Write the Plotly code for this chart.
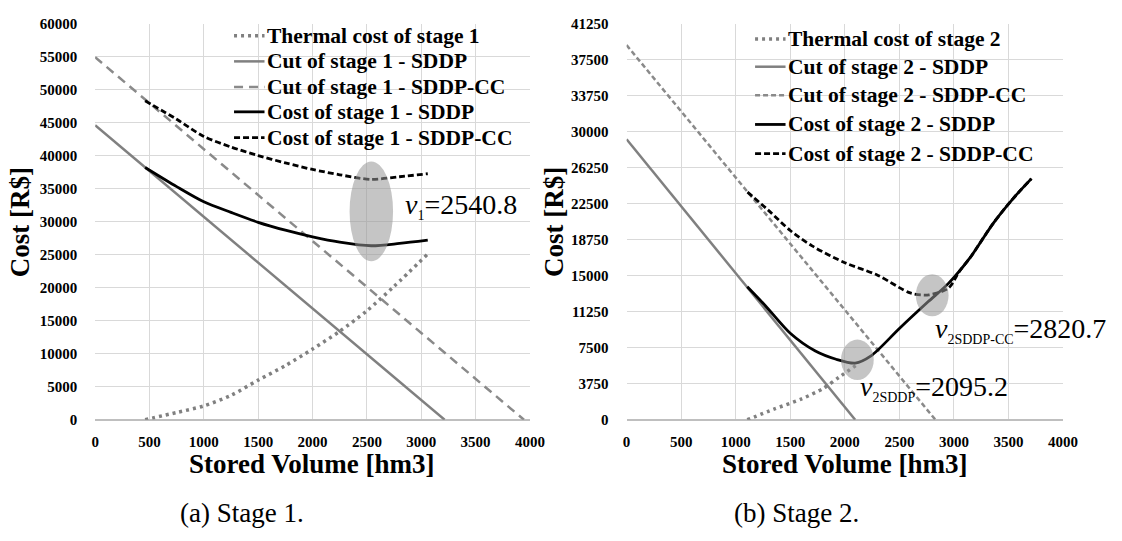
import plotly.graph_objects as go

# ---------------- Stage 1 data ----------------
s1_thermal_x = [460, 750, 1000, 1250, 1500, 1750, 2000, 2250, 2500, 2750, 3060]
s1_thermal_y = [0, 1100, 2100, 3700, 6000, 8200, 10700, 13400, 16500, 20200, 25100]
s1_cut_sddp_x = [0, 3215]
s1_cut_sddp_y = [44600, 0]
s1_cut_cc_x = [0, 3945]
s1_cut_cc_y = [54900, 0]
s1_cost_sddp_x = [460, 750, 1000, 1250, 1500, 1750, 2000, 2250, 2540, 2800, 3060]
s1_cost_sddp_y = [38200, 35300, 33000, 31400, 29900, 28700, 27700, 26900, 26350, 26700, 27200]
s1_cost_cc_x = [460, 750, 1000, 1250, 1500, 1750, 2000, 2250, 2540, 2800, 3060]
s1_cost_cc_y = [48300, 45500, 42900, 41300, 40000, 38900, 37900, 37100, 36400, 36800, 37250]

# ---------------- Stage 2 data ----------------
s2_thermal_x = [1106, 1350, 1600, 1800, 1950, 2120]
s2_thermal_y = [0, 1100, 2150, 3250, 4450, 5800]
s2_cut_sddp_x = [0, 2095]
s2_cut_sddp_y = [29200, 0]
s2_cut_cc_x = [0, 2830]
s2_cut_cc_y = [39000, 0]
s2_cost_sddp_x = [1106, 1270, 1500, 1730, 1920, 2095, 2240, 2500, 2760, 2950, 3150, 3360, 3540, 3710]
s2_cost_sddp_y = [13850, 11900, 9000, 7150, 6300, 5900, 6650, 9500, 12250, 14200, 16900, 20450, 23000, 25100]
s2_cost_cc_x = [1108, 1300, 1500, 1700, 2000, 2300, 2600, 2770, 2950, 3050, 3150, 3360, 3540, 3710]
s2_cost_cc_y = [23700, 21800, 19700, 18100, 16350, 15050, 13200, 13000, 13700, 15450, 16900, 20450, 23000, 25100]

x_ticks = [0, 500, 1000, 1500, 2000, 2500, 3000, 3500, 4000]
y1_ticks = list(range(0, 60001, 5000))
y2_ticks = [0, 3750, 7500, 11250, 15000, 18750, 22500, 26250, 30000, 33750, 37500, 41250]

# marked optima
v1 = 2540.8
v2_sddp = 2095.2
v2_cc = 2820.7

SERIF = "Liberation Serif"
GRAY = "#808080"
GRAY2 = "#8a8a8a"
W, H = 1122, 541

fig = go.Figure()


def add_stage(stage, xa, ya, th, cs, cc, ks, kc, cc_dash, leg_x, leg_rows):
    styles = [
        (th, f"Thermal cost of stage {stage}", dict(color=GRAY, width=3.5, dash="3px,4px"), "spline"),
        (cs, f"Cut of stage {stage} - SDDP", dict(color=GRAY, width=2.5), "linear"),
        (cc, f"Cut of stage {stage} - SDDP-CC", dict(color=GRAY2, width=2.5, dash=cc_dash), "linear"),
        (ks, f"Cost of stage {stage} - SDDP", dict(color="black", width=2.8), "spline"),
        (kc, f"Cost of stage {stage} - SDDP-CC", dict(color="black", width=2.8, dash="6px,3px"), "spline"),
    ]
    for (data, name, ln, shape), ry in zip(styles, leg_rows):
        line = dict(ln)
        line["shape"] = shape
        if shape == "spline":
            line["smoothing"] = 0.8
        fig.add_trace(go.Scatter(x=data[0], y=data[1], mode="lines", line=line, name=name,
                                 xaxis=xa, yaxis=ya, showlegend=False))
        # legend entry (sample line + label)
        fig.add_shape(type="line", xref="paper", yref="paper",
                      x0=leg_x / W, x1=(leg_x + 31) / W, y0=1 - ry / H, y1=1 - ry / H,
                      line=dict(color=ln["color"], width=ln["width"], dash=ln.get("dash", "solid")))
        fig.add_annotation(xref="paper", yref="paper", x=(leg_x + 31) / W, y=1 - ry / H,
                           xanchor="left", yanchor="middle", showarrow=False, text=name,
                           font=dict(family=SERIF, size=21.5, color="black", weight="bold"))


add_stage(1, "x", "y",
          (s1_thermal_x, s1_thermal_y), (s1_cut_sddp_x, s1_cut_sddp_y), (s1_cut_cc_x, s1_cut_cc_y),
          (s1_cost_sddp_x, s1_cost_sddp_y), (s1_cost_cc_x, s1_cost_cc_y), "9px,6px",
          234, [28.5, 55, 81.5, 107, 133.5])
add_stage(2, "x2", "y2",
          (s2_thermal_x, s2_thermal_y), (s2_cut_sddp_x, s2_cut_sddp_y), (s2_cut_cc_x, s2_cut_cc_y),
          (s2_cost_sddp_x, s2_cost_sddp_y), (s2_cost_cc_x, s2_cost_cc_y), "5px,3px",
          764, [32, 60.5, 90, 120, 150])

tickfont = dict(family=SERIF, size=15, color="black", weight="bold")
xcommon = dict(range=[0, 4000], tickvals=x_ticks, ticktext=[str(v) for v in x_ticks],
               showgrid=True, gridcolor="#d9d9d9", gridwidth=1,
               zeroline=False, showline=False, ticks="outside", ticklen=8, tickcolor="rgba(0,0,0,0)",
               tickfont=tickfont, fixedrange=True)
ycommon = dict(showgrid=True, gridcolor="#d9d9d9", gridwidth=1, zeroline=True, zerolinecolor="#bfbfbf",
               zerolinewidth=1.5, showline=False, ticks="outside", ticklen=14, tickcolor="rgba(0,0,0,0)",
               tickfont=tickfont, fixedrange=True)

ydom = [116.7 / H, 525 / H]

fig.update_layout(
    width=W, height=H,
    margin=dict(l=0, r=0, t=0, b=0),
    paper_bgcolor="white", plot_bgcolor="white",
    font=dict(family=SERIF),
    showlegend=False,
    xaxis=dict(domain=[92.7 / W, 535 / W], anchor="y", **xcommon),
    yaxis=dict(domain=ydom, anchor="x", range=[0, 60000], tickvals=y1_ticks,
               ticktext=[str(v) for v in y1_ticks], **ycommon),
    xaxis2=dict(domain=[633.3 / W, 1077.3 / W], anchor="y2", **xcommon),
    yaxis2=dict(domain=ydom, anchor="x2", range=[0, 41250], tickvals=y2_ticks,
                ticktext=[str(v) for v in y2_ticks], **ycommon),
)

# highlight ellipses
ell = dict(type="circle", layer="above", line=dict(width=0), fillcolor="rgba(150,150,150,0.55)")
fig.add_shape(xref="x", yref="y", x0=v1 - 200, x1=v1 + 200, y0=24000, y1=39100, **ell)
fig.add_shape(xref="x2", yref="y2", x0=v2_sddp - 130, x1=v2_sddp + 170, y0=4140, y1=8345, **ell)
fig.add_shape(xref="x2", yref="y2", x0=v2_cc - 170, x1=v2_cc + 130, y0=10770, y1=15150, **ell)

afont = dict(family=SERIF, size=28, color="black")
SUB = "<span style='font-size:14px'>{}</span>"
fig.add_annotation(xref="x", yref="y", x=2830, y=32300, xanchor="left", yanchor="middle", showarrow=False,
                   text="<i>v</i><sub>" + SUB.format("1") + f"</sub>={v1}", font=afont)
fig.add_annotation(xref="x2", yref="y2", x=2808, y=9350, xanchor="left", yanchor="middle", showarrow=False,
                   text="<i>v</i><sub>" + SUB.format("2SDDP-CC") + f"</sub>={v2_cc}", font=afont)
fig.add_annotation(xref="x2", yref="y2", x=2120, y=3300, xanchor="left", yanchor="middle", showarrow=False,
                   text="<i>v</i><sub>" + SUB.format("2SDDP") + f"</sub>={v2_sddp}", font=afont)

# axis titles and captions
tfont = dict(family=SERIF, size=27, color="black", weight="bold")
fig.add_annotation(xref="paper", yref="paper", x=313.5 / W, y=1 - 470 / H, showarrow=False,
                   text="Stored Volume [hm3]", font=tfont, xanchor="center", yanchor="middle")
fig.add_annotation(xref="paper", yref="paper", x=855.3 / W, y=1 - 470 / H, showarrow=False,
                   text="Stored Volume [hm3]", font=tfont, xanchor="center", yanchor="middle")
fig.add_annotation(xref="paper", yref="paper", x=17 / W, y=1 - 221 / H, showarrow=False, textangle=-90,
                   text="Cost [R$]", font=tfont, xanchor="center", yanchor="middle")
fig.add_annotation(xref="paper", yref="paper", x=560 / W, y=1 - 221 / H, showarrow=False, textangle=-90,
                   text="Cost [R$]", font=tfont, xanchor="center", yanchor="middle")
cfont = dict(family=SERIF, size=27, color="black")
fig.add_annotation(xref="paper", yref="paper", x=242.5 / W, y=1 - 520 / H, showarrow=False,
                   text="(a) Stage 1.", font=cfont, xanchor="center", yanchor="middle")
fig.add_annotation(xref="paper", yref="paper", x=806.6 / W, y=1 - 520 / H, showarrow=False,
                   text="(b) Stage 2.", font=cfont, xanchor="center", yanchor="middle")

fig.write_html("out.html", config={"displayModeBar": False})
